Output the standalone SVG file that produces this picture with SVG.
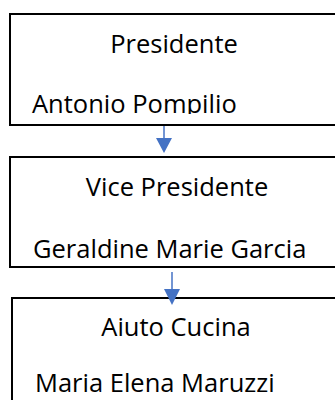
<svg xmlns="http://www.w3.org/2000/svg" width="335" height="400" viewBox="0 0 335 400">
<style>
.box{fill:#fff;stroke:#000;stroke-width:2}
.t{font-family:"Open Sans","Noto Sans",sans-serif;font-size:25.5px;fill:#000}
.c{text-anchor:middle}
.conn{stroke:#4472C4;stroke-width:1.5;fill:none}
.head{fill:#4472C4}
</style>
<defs>
<clipPath id="c1"><rect x="0" y="0" width="335" height="114"/></clipPath>
</defs>
<rect width="335" height="400" fill="#fff"/>
<g id="node-presidente">
<rect class="box" x="10" y="14" width="340" height="111" stroke="#222"/>
<text class="t c" x="174" y="53">Presidente</text>
<text class="t" x="32" y="113" clip-path="url(#c1)">Antonio Pompilio</text>
</g>
<g id="node-vice">
<rect class="box" x="10" y="157" width="340" height="110"/>
<text class="t c" x="177" y="196">Vice Presidente</text>
<text class="t" x="33" y="258">Geraldine Marie Garcia</text>
</g>
<g id="node-aiuto">
<rect class="box" x="12" y="298" width="340" height="120"/>
<text class="t c" x="176" y="336">Aiuto Cucina</text>
<text class="t" x="35" y="392">Maria Elena Maruzzi</text>
</g>
<g id="connectors">
<line class="conn" x1="164" y1="126" x2="164" y2="139"/>
<path class="head" d="M156,138 L172,138 L164,153 z"/>
<line class="conn" x1="172" y1="272" x2="172" y2="290"/>
<path class="head" d="M164,289 L180,289 L172,305 z"/>
</g>
</svg>
